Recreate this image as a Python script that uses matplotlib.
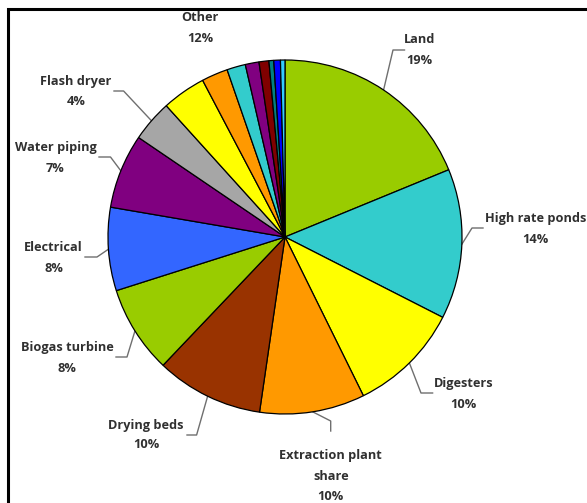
import numpy as np
import matplotlib.pyplot as plt

# cost shares (%) of the main items, clockwise from 12 o'clock
names = ['Land', 'High rate ponds', 'Digesters', 'Extraction plant\nshare',
         'Drying beds', 'Biogas turbine', 'Electrical', 'Water piping', 'Flash dryer']
shares = [18.8, 13.7, 10.2, 9.6, 9.8, 8.0, 7.6, 6.8, 3.8]
colors = ['#99CC00', '#33CCCC', '#FFFF00', '#FF9900', '#993300',
          '#99CC00', '#3366FF', '#800080', '#A6A6A6']

# small items lumped together as "Other"
other_shares = [4.0, 2.4, 1.7, 1.25, 0.9, 0.44, 0.6, 0.41]
other_colors = ['#FFFF00', '#FF9900', '#33CCCC', '#800080',
                '#800000', '#008080', '#0000FF', '#33CCFF']

W, H = 587, 503
fig = plt.figure(figsize=(W / 100, H / 100), dpi=100)
ax = fig.add_axes([0, 0, 1, 1])

cx, cy, R = 285, H - 237, 177
wedges, _ = ax.pie(shares + other_shares, colors=colors + other_colors,
                   startangle=90, counterclock=False, center=(cx, cy), radius=R,
                   wedgeprops=dict(edgecolor='black', linewidth=0.9), frame=True)
ax.set_xlim(0, W)
ax.set_ylim(0, H)
ax.set_aspect('auto')
ax.axis('off')

# frame around the chart
ax.plot([7.5, 7.5, W + 5], [-5, H - 8.5, H - 8.5], color='black', lw=2.2,
        solid_joinstyle='miter', clip_on=False)

txt = dict(ha='center', va='center', fontsize=9.2, fontweight='bold',
           family=['Open Sans', 'DejaVu Sans'], color='#303030')

# label positions: x centre, y of each text line, leader start, leader elbow
layout = [
    (419.5, [39.5, 60.5], (404.5, 50), (393, 50)),
    (535.6, [218, 239], (483, 228), (472, 228)),
    (463.7, [383, 404], (432.6, 393), (421, 393)),
    (330.7, [455, 476, 497], (330.7, 431), (330.7, 421)),
    (146, [425, 445], (187, 435), (196.6, 435)),
    (67.4, [347, 368], (116, 357), (127, 357)),
    (53.6, [247, 268], (85, 257), (97, 257)),
    (55.4, [147, 168], (99, 157), (110.5, 157)),
    (76, [81, 101], (114, 91), (123.6, 91)),
]

for name, val, w, (x, ys, p0, p1) in zip(names, shares, wedges, layout):
    lines = name.split('\n') + ['%d%%' % round(val)]
    for line, y in zip(lines, ys):
        ax.text(x, H - y, line, **txt)
    mid = np.radians((w.theta1 + w.theta2) / 2)
    ex, ey = cx + R * np.cos(mid), cy + R * np.sin(mid)
    ax.plot([p0[0], p1[0], ex], [H - p0[1], H - p1[1], ey],
            color='#6F6F6F', lw=1.0, zorder=0.5)

ax.text(200, H - 17.5, 'Other', **txt)
ax.text(200, H - 38.5, '%d%%' % round(sum(other_shares)), **txt)

fig.savefig('out.png', dpi=100)
